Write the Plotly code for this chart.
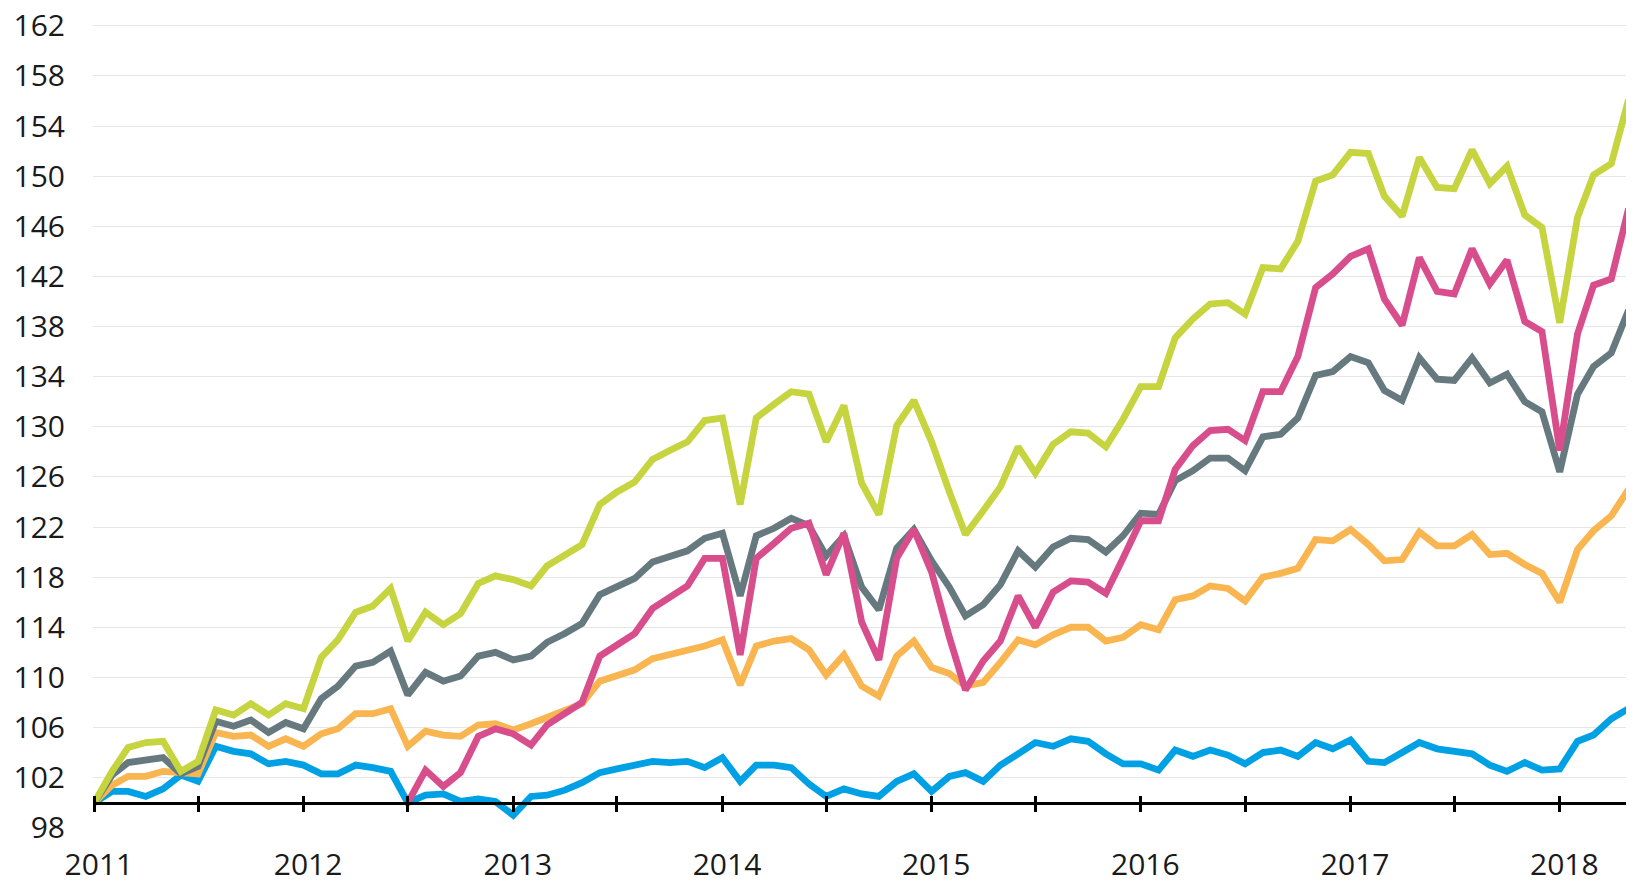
import pandas as pd
import plotly.graph_objects as go

# Monthly index values (Jan 2011 = 100), Jan 2011 .. May 2018
start_month = "2011-01-01"
n_months = 89

green = [100, 102.5, 104.4, 104.8, 104.9, 102.5, 103.3, 107.4, 107.0, 107.9, 107.0, 107.9,
         107.5, 111.6, 113.0, 115.2, 115.7, 117.1, 112.9, 115.2, 114.2, 115.1, 117.5, 118.1,
         117.8, 117.3, 118.9, 119.8, 120.6, 123.8, 124.8, 125.6, 127.4, 128.1, 128.8, 130.5,
         130.7, 123.8, 130.7, 131.8, 132.8, 132.6, 128.8, 131.7, 125.5, 123.0, 130.1, 132.1,
         128.8, 124.8, 121.4, 123.3, 125.2, 128.4, 126.3, 128.6, 129.6, 129.5, 128.4, 130.6,
         133.2, 133.2, 137.1, 138.6, 139.8, 139.9, 139.0, 142.7, 142.6, 144.8, 149.6, 150.1,
         151.9, 151.8, 148.4, 146.8, 151.5, 149.1, 149.0, 152.1, 149.4, 150.8, 146.9, 145.9,
         138.3, 146.7, 150.1, 151.0, 156.1]

gray = [100, 102.2, 103.2, 103.4, 103.6, 102.3, 102.9, 106.5, 106.1, 106.6, 105.6, 106.4,
        105.9, 108.3, 109.3, 110.9, 111.2, 112.1, 108.6, 110.4, 109.7, 110.1, 111.7, 112.0,
        111.4, 111.7, 112.8, 113.5, 114.3, 116.6, 117.3, 117.9, 119.2, 119.7, 120.1, 121.1,
        121.5, 116.5, 121.3, 121.9, 122.7, 122.1, 119.7, 121.3, 117.2, 115.4, 120.3, 121.8,
        119.3, 117.2, 114.9, 115.8, 117.4, 120.1, 118.8, 120.4, 121.1, 121.0, 120.0, 121.3,
        123.1, 123.0, 125.7, 126.5, 127.5, 127.5, 126.5, 129.2, 129.4, 130.7, 134.1, 134.4,
        135.6, 135.1, 132.9, 132.1, 135.5, 133.8, 133.7, 135.5, 133.5, 134.2, 132.0, 131.2,
        126.4, 132.6, 134.8, 135.9, 139.3]

orange = [100, 101.4, 102.1, 102.1, 102.5, 102.4, 102.3, 105.6, 105.3, 105.4, 104.5, 105.1,
          104.5, 105.5, 105.9, 107.1, 107.1, 107.5, 104.5, 105.7, 105.4, 105.3, 106.2, 106.3,
          105.8, 106.3, 106.8, 107.3, 107.9, 109.7, 110.1, 110.6, 111.5, 111.8, 112.1, 112.5,
          113.0, 109.4, 112.5, 112.9, 113.1, 112.2, 110.2, 111.8, 109.3, 108.5, 111.7, 112.9,
          110.8, 110.3, 109.3, 109.6, 111.2, 113.0, 112.6, 113.4, 114.0, 114.0, 112.9, 113.2,
          114.2, 113.8, 116.2, 116.5, 117.3, 117.1, 116.1, 118.0, 118.3, 118.7, 121.0, 120.9,
          121.8, 120.6, 119.3, 119.4, 121.6, 120.5, 120.5, 121.4, 119.8, 119.9, 119.0, 118.3,
          116.0, 120.2, 121.7, 122.9, 125.0]

blue = [100, 100.9, 100.9, 100.5, 101.1, 102.2, 101.7, 104.5, 104.1, 103.9, 103.1, 103.3,
        103.0, 102.3, 102.3, 103.0, 102.8, 102.5, 100.0, 100.6, 100.7, 100.1, 100.3, 100.1,
        99.0, 100.5, 100.6, 101.0, 101.6, 102.4, 102.7, 103.0, 103.3, 103.2, 103.3, 102.8,
        103.6, 101.7, 103.0, 103.0, 102.8, 101.5, 100.5, 101.1, 100.7, 100.5, 101.7, 102.3,
        100.9, 102.1, 102.4, 101.7, 103.0, 103.9, 104.8, 104.5, 105.1, 104.9, 103.9, 103.1,
        103.1, 102.6, 104.2, 103.7, 104.2, 103.8, 103.1, 104.0, 104.2, 103.7, 104.8, 104.3,
        105.0, 103.3, 103.2, 104.0, 104.8, 104.3, 104.1, 103.9, 103.0, 102.5, 103.2, 102.6,
        102.7, 104.9, 105.4, 106.7, 107.5]

# pink series starts in July 2012
pink = [None] * 18 + [
    100.0, 102.6, 101.3, 102.4, 105.3, 105.9, 105.5, 104.6, 106.2, 107.1, 108.0, 111.7,
    112.6, 113.5, 115.5, 116.4, 117.3, 119.5, 119.5, 111.8, 119.5, 120.7, 121.9, 122.3,
    118.2, 121.5, 114.4, 111.4, 119.5, 121.8, 118.4, 113.2, 109.0, 111.3, 112.9, 116.5,
    114.0, 116.8, 117.7, 117.6, 116.7, 119.5, 122.5, 122.5, 126.6, 128.5, 129.7, 129.8,
    128.9, 132.8, 132.8, 135.6, 141.1, 142.2, 143.6, 144.2, 140.2, 138.1, 143.5, 140.8,
    140.6, 144.2, 141.4, 143.3, 138.4, 137.6, 128.1, 137.4, 141.3, 141.8, 147.4]

years = [str(y) for y in range(2011, 2019)]
y_ticks = list(range(98, 163, 4))
base_value = 100

dates = pd.date_range(start_month, periods=n_months, freq="MS")
# year labels sit slightly right of their tick marks in the original
year_label_pos = [pd.Timestamp(f"{y}-01-01") + pd.Timedelta(days=8) for y in years]

series = [
    ("blue", blue, "#00A1E4"),
    ("orange", orange, "#F9B550"),
    ("gray", gray, "#66797F"),
    ("green", green, "#C6D43F"),
    ("pink", pink, "#D84E8D"),
]

fig = go.Figure()

# invisible anchors so the baseline axes (drawn at 100) get rendered
for ax in ("x2", "x3"):
    fig.add_trace(go.Scatter(x=[dates[0]], y=[base_value], xaxis=ax, yaxis="y",
                             mode="markers", marker=dict(opacity=0, size=1),
                             showlegend=False, hoverinfo="skip"))

for name, vals, col in series:
    fig.add_trace(go.Scatter(x=dates, y=vals, mode="lines", name=name,
                             line=dict(color=col, width=6.8), connectgaps=False,
                             hoverinfo="skip"))

y_lo, y_hi = 97.98, 163.42
x_range = ["2010-12-29 17:00", "2018-05-10 14:00"]
axis_pos = (base_value - y_lo) / (y_hi - y_lo)
font = dict(family="Open Sans", size=30, color="#1A1A1A")

fig.update_layout(
    width=1626, height=872,
    margin=dict(l=85, r=0, t=0, b=52),
    paper_bgcolor="white", plot_bgcolor="white",
    showlegend=False,
    xaxis=dict(type="date", range=x_range, showgrid=False, zeroline=False, showline=False,
               tickvals=year_label_pos, ticktext=years, ticks="",
               tickfont=font, ticklabelstandoff=16, automargin=False,
               ticklabeloverflow="allow"),
    yaxis=dict(range=[y_lo, y_hi], tickvals=y_ticks, showgrid=True, gridcolor="#E6E6E6",
               gridwidth=1.3, zeroline=False, showline=False, ticks="",
               tickfont=font, ticklabelstandoff=27, automargin=False,
               ticklabeloverflow="allow"),
    xaxis2=dict(type="date", range=x_range, overlaying="x", anchor="free", position=axis_pos,
                showline=True, linecolor="black", linewidth=3, showgrid=False, zeroline=False,
                ticks="outside", ticklen=7, tickwidth=3, tickcolor="black",
                tick0="2011-01-01", dtick="M6", showticklabels=False, automargin=False),
    xaxis3=dict(type="date", range=x_range, overlaying="x", anchor="free", position=axis_pos,
                showline=False, showgrid=False, zeroline=False,
                ticks="inside", ticklen=7, tickwidth=3, tickcolor="black",
                tick0="2011-01-01", dtick="M6", showticklabels=False, automargin=False),
)

fig.write_html("out.html")
